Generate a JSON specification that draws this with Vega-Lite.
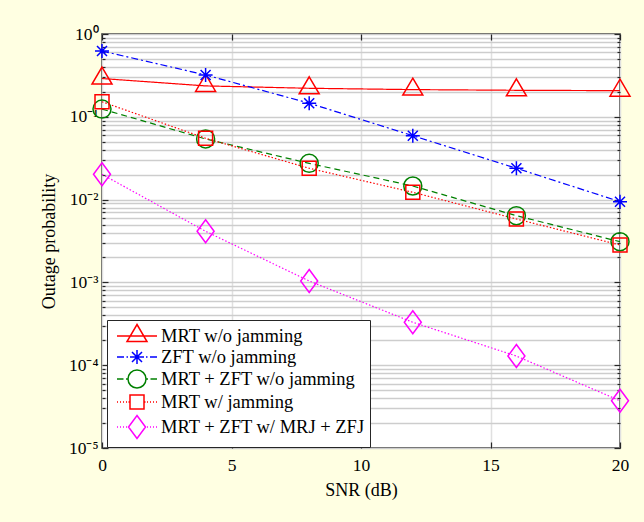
{
  "$schema": "https://vega.github.io/schema/vega-lite/v6.json",
  "width": 518,
  "height": 414,
  "autosize": {"type": "none"},
  "padding": {"left": 102, "top": 34, "right": 24, "bottom": 74},
  "background": "#FFFFE2",
  "config": {
    "font": "Liberation Serif",
    "view": {"fill": "white", "stroke": "#262626", "strokeWidth": 1.5}
  },
  "data": {
    "values": [
      {"series": "MRT w/o jamming", "snr": 0, "p": 0.29},
      {"series": "MRT w/o jamming", "snr": 4, "p": 0.236},
      {"series": "MRT w/o jamming", "snr": 8, "p": 0.221},
      {"series": "MRT w/o jamming", "snr": 12, "p": 0.213},
      {"series": "MRT w/o jamming", "snr": 16, "p": 0.209},
      {"series": "MRT w/o jamming", "snr": 20, "p": 0.207},
      {"series": "ZFT w/o jamming", "snr": 0, "p": 0.623},
      {"series": "ZFT w/o jamming", "snr": 4, "p": 0.32},
      {"series": "ZFT w/o jamming", "snr": 8, "p": 0.146},
      {"series": "ZFT w/o jamming", "snr": 12, "p": 0.0591},
      {"series": "ZFT w/o jamming", "snr": 16, "p": 0.0239},
      {"series": "ZFT w/o jamming", "snr": 20, "p": 0.00944},
      {"series": "MRT + ZFT w/o jamming", "snr": 0, "p": 0.124},
      {"series": "MRT + ZFT w/o jamming", "snr": 4, "p": 0.054},
      {"series": "MRT + ZFT w/o jamming", "snr": 8, "p": 0.0274},
      {"series": "MRT + ZFT w/o jamming", "snr": 12, "p": 0.0146},
      {"series": "MRT + ZFT w/o jamming", "snr": 16, "p": 0.0064},
      {"series": "MRT + ZFT w/o jamming", "snr": 20, "p": 0.0031},
      {"series": "MRT w/ jamming", "snr": 0, "p": 0.152},
      {"series": "MRT w/ jamming", "snr": 4, "p": 0.055},
      {"series": "MRT w/ jamming", "snr": 8, "p": 0.0239},
      {"series": "MRT w/ jamming", "snr": 12, "p": 0.01225},
      {"series": "MRT w/ jamming", "snr": 16, "p": 0.00583},
      {"series": "MRT w/ jamming", "snr": 20, "p": 0.00283},
      {"series": "MRT + ZFT w/ MRJ + ZFJ", "snr": 0, "p": 0.0202},
      {"series": "MRT + ZFT w/ MRJ + ZFJ", "snr": 4, "p": 0.00414},
      {"series": "MRT + ZFT w/ MRJ + ZFJ", "snr": 8, "p": 0.00104},
      {"series": "MRT + ZFT w/ MRJ + ZFJ", "snr": 12, "p": 0.00033},
      {"series": "MRT + ZFT w/ MRJ + ZFJ", "snr": 16, "p": 0.000129},
      {"series": "MRT + ZFT w/ MRJ + ZFJ", "snr": 20, "p": 0.0000372}
    ]
  },
  "layer": [
    {
      "mark": {"type": "line", "strokeWidth": 1.2, "clip": true},
      "encoding": {
        "x": {
          "field": "snr", "type": "quantitative",
          "scale": {"domain": [0, 20], "nice": false, "zero": false},
          "axis": {
            "orient": "bottom", "values": [0, 5, 10, 15, 20], "title": "SNR (dB)",
            "grid": true, "gridColor": "#E0E0E0", "gridWidth": 1.5,
            "domain": false, "tickSize": -6, "tickColor": "#262626", "tickWidth": 1.2,
            "labelPadding": 14, "labelFontSize": 17.5, "labelColor": "black", "labelFont": "Liberation Serif",
            "labelFlush": false,
            "titleFont": "Liberation Serif", "titleFontSize": 18, "titleFontWeight": "normal", "titleColor": "black", "titlePadding": 8
          }
        },
        "y": {
          "field": "p", "type": "quantitative",
          "scale": {"type": "log", "domain": [0.00001, 1], "nice": false},
          "axis": {
            "orient": "left",
            "values": [0.00001,0.00002,0.00003,0.00004,0.00005,0.00006,0.00007,0.00008,0.00009,
                       0.0001,0.0002,0.0003,0.0004,0.0005,0.0006,0.0007,0.0008,0.0009,
                       0.001,0.002,0.003,0.004,0.005,0.006,0.007,0.008,0.009,
                       0.01,0.02,0.03,0.04,0.05,0.06,0.07,0.08,0.09,
                       0.1,0.2,0.3,0.4,0.5,0.6,0.7,0.8,0.9,1],
            "title": "Outage probability",
            "grid": true, "gridColor": "#CDCDCD", "gridWidth": 1.3,
            "domain": false,
            "tickSize": {"condition": {"test": "abs(log(datum.value)/LN10 - round(log(datum.value)/LN10)) < 0.000001", "value": -6}, "value": -3},
            "tickColor": "#262626", "tickWidth": 1.2,
            "labelExpr": "abs(log(datum.value)/LN10 - round(log(datum.value)/LN10)) < 0.000001 ? '10' + ['⁰','⁻¹','⁻²','⁻³','⁻⁴','⁻⁵'][-round(log(datum.value)/LN10)] : ''",
            "labelPadding": 10, "labelFontSize": 17.5, "labelColor": "black", "labelFont": "Liberation Serif",
            "labelOverlap": false, "labelFlush": false, "labelBound": false,
            "titleFont": "Liberation Serif", "titleFontSize": 18, "titleFontWeight": "normal", "titleColor": "black", "titlePadding": 10
          }
        },
        "color": {
          "field": "series", "type": "nominal",
          "scale": {
            "domain": ["MRT w/o jamming", "ZFT w/o jamming", "MRT + ZFT w/o jamming", "MRT w/ jamming", "MRT + ZFT w/ MRJ + ZFJ"],
            "range": ["#FF0000", "#0000FF", "#008000", "#FF0000", "#FF00FF"]
          },
          "legend": null
        },
        "strokeDash": {
          "field": "series", "type": "nominal",
          "scale": {
            "domain": ["MRT w/o jamming", "ZFT w/o jamming", "MRT + ZFT w/o jamming", "MRT w/ jamming", "MRT + ZFT w/ MRJ + ZFJ"],
            "range": [[1, 0], [7, 3, 2, 3], [6, 4], [1.5, 2], [1.5, 2]]
          },
          "legend": null
        }
      }
    },
    {
      "mark": {"type": "point", "filled": false, "size": 400, "strokeWidth": 1.5, "opacity": 1},
      "encoding": {
        "x": {
          "field": "snr", "type": "quantitative",
          "axis": {"orient": "top", "values": [0, 5, 10, 15, 20], "labels": false, "title": null, "grid": false, "domain": false,
                   "tickSize": -6, "tickColor": "#262626", "tickWidth": 1.2}
        },
        "y": {
          "field": "p", "type": "quantitative",
          "axis": {
            "orient": "right",
            "values": [0.00001,0.00002,0.00003,0.00004,0.00005,0.00006,0.00007,0.00008,0.00009,
                       0.0001,0.0002,0.0003,0.0004,0.0005,0.0006,0.0007,0.0008,0.0009,
                       0.001,0.002,0.003,0.004,0.005,0.006,0.007,0.008,0.009,
                       0.01,0.02,0.03,0.04,0.05,0.06,0.07,0.08,0.09,
                       0.1,0.2,0.3,0.4,0.5,0.6,0.7,0.8,0.9,1],
            "labels": false, "title": null, "grid": false, "domain": false,
            "tickSize": {"condition": {"test": "abs(log(datum.value)/LN10 - round(log(datum.value)/LN10)) < 0.000001", "value": -6}, "value": -3},
            "tickColor": "#262626", "tickWidth": 1.2
          }
        },
        "color": {"field": "series", "type": "nominal", "legend": null},
        "shape": {
          "field": "series", "type": "nominal",
          "scale": {
            "domain": ["MRT w/o jamming", "ZFT w/o jamming", "MRT + ZFT w/o jamming", "MRT w/ jamming", "MRT + ZFT w/ MRJ + ZFJ"],
            "range": [
              "M0,-1.15L1,0.55L-1,0.55Z",
              "M0,-0.7V0.7M-0.7,0H0.7M-0.5,-0.5L0.5,0.5M-0.5,0.5L0.5,-0.5",
              "M0.9,0A0.9,0.9,0,1,1,-0.9,0A0.9,0.9,0,1,1,0.9,0Z",
              "M-0.7,-0.7H0.7V0.7H-0.7Z",
              "M0,-1.15L0.85,0L0,1.15L-0.85,0Z"
            ]
          },
          "legend": null
        }
      }
    },
    {
      "transform": [{"filter": "false"}],
      "mark": {"type": "point", "filled": false, "size": 400, "strokeWidth": 1.5, "opacity": 1},
      "encoding": {
        "x": {"field": "snr", "type": "quantitative", "axis": null},
        "y": {"field": "p", "type": "quantitative", "axis": null},
        "shape": {
          "field": "series", "type": "nominal",
          "scale": {
            "domain": ["MRT w/o jamming", "ZFT w/o jamming", "MRT + ZFT w/o jamming", "MRT w/ jamming", "MRT + ZFT w/ MRJ + ZFJ"],
            "range": [
              "M-2,0H2M0,-1.15L1,0.55L-1,0.55Z",
              "M-2,0H-1.3M-1.05,0H-0.9M0.9,0H1.05M1.3,0H2M0,-0.7V0.7M-0.7,0H0.7M-0.5,-0.5L0.5,0.5M-0.5,0.5L0.5,-0.5",
              "M-2,0H-1.35M-1.1,0H-0.9M0.9,0H1.1M1.35,0H2M0.9,0A0.9,0.9,0,1,1,-0.9,0A0.9,0.9,0,1,1,0.9,0Z",
              "M-2,0H-1.9M-1.7,0H-1.6M-1.4,0H-1.3M-1.1,0H-1.0M-0.85,0H-0.75M0.75,0H0.85M1.0,0H1.1M1.3,0H1.4M1.6,0H1.7M1.9,0H2M-0.7,-0.7H0.7V0.7H-0.7Z",
              "M-2,0H-1.9M-1.7,0H-1.6M-1.4,0H-1.3M-1.1,0H-1.0M1.0,0H1.1M1.3,0H1.4M1.6,0H1.7M1.9,0H2M0,-1.15L0.85,0L0,1.15L-0.85,0Z"
            ]
          },
          "legend": {
            "title": null,
            "orient": "none", "legendX": 5, "legendY": 286,
            "fillColor": "white", "strokeColor": "#262626",
            "padding": 5, "rowPadding": 0,
            "symbolSize": 400, "symbolStrokeWidth": 1.5, "symbolOffset": 14, "symbolOpacity": 1,
            "symbolFillColor": "transparent",
            "symbolStrokeColor": {"expr": "datum.value === 'ZFT w/o jamming' ? '#0000FF' : datum.value === 'MRT + ZFT w/o jamming' ? '#008000' : datum.value === 'MRT + ZFT w/ MRJ + ZFJ' ? '#FF00FF' : '#FF0000'"},
            "labelOffset": 13, "labelFontSize": 18.5, "labelFont": "Liberation Serif", "labelColor": "black", "labelLimit": 400,
            "encode": {
              "legend": {"update": {"strokeWidth": {"value": 1.2}}}
            }
          }
        }
      }
    }
  ],
  "resolve": {
    "scale": {"shape": "independent"},
    "axis": {"x": "independent", "y": "independent"}
  }
}
